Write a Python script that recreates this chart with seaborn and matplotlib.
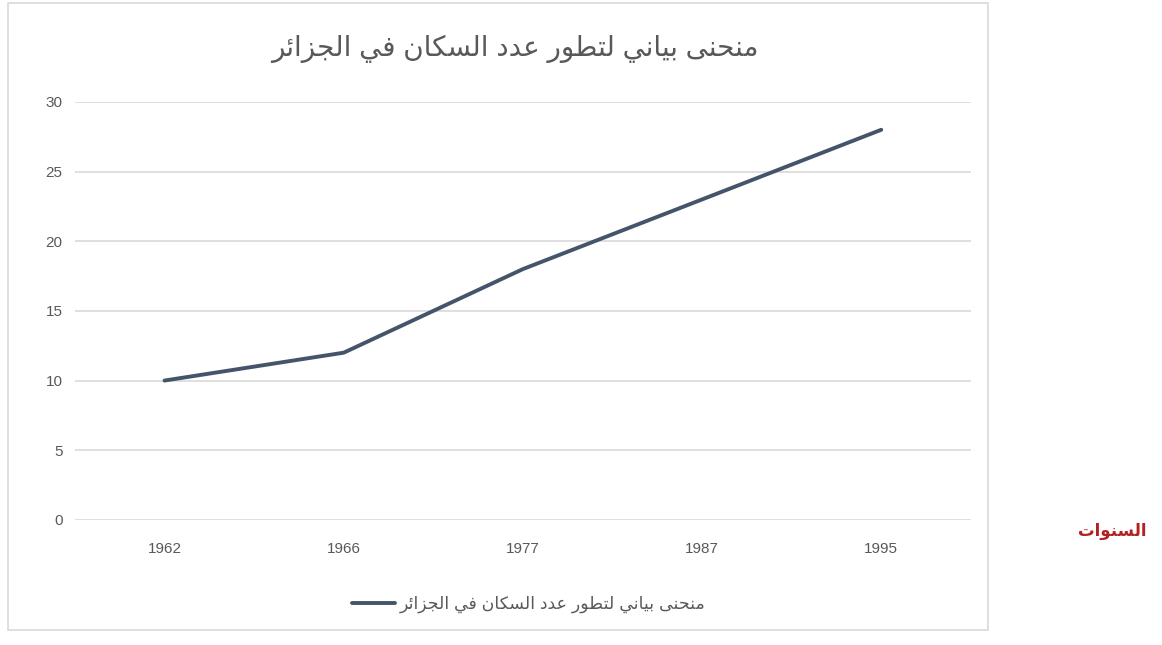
import pandas as pd
import matplotlib
matplotlib.use("Agg")
import matplotlib.pyplot as plt
import seaborn as sns
from matplotlib.patches import Rectangle

# data
years = ["1962", "1966", "1977", "1987", "1995"]
population = [10, 12, 18, 23, 28]
y_ticks = [0, 5, 10, 15, 20, 25, 30]

title = "منحنى بياني لتطور عدد السكان في الجزائر"
series_name = "منحنى بياني لتطور عدد السكان في الجزائر"
side_label = "السنوات"

# matplotlib has no Arabic shaping, so map letters to presentation forms
# (isolated, final, initial, medial); None = letter does not join forward
FORMS = {
    "ا": ("\uFE8D", "\uFE8E", None, None),
    "ب": ("\uFE8F", "\uFE90", "\uFE91", "\uFE92"),
    "ت": ("\uFE95", "\uFE96", "\uFE97", "\uFE98"),
    "ج": ("\uFE9D", "\uFE9E", "\uFE9F", "\uFEA0"),
    "ح": ("\uFEA1", "\uFEA2", "\uFEA3", "\uFEA4"),
    "د": ("\uFEA9", "\uFEAA", None, None),
    "ر": ("\uFEAD", "\uFEAE", None, None),
    "ز": ("\uFEAF", "\uFEB0", None, None),
    "س": ("\uFEB1", "\uFEB2", "\uFEB3", "\uFEB4"),
    "ط": ("\uFEC1", "\uFEC2", "\uFEC3", "\uFEC4"),
    "ع": ("\uFEC9", "\uFECA", "\uFECB", "\uFECC"),
    "ف": ("\uFED1", "\uFED2", "\uFED3", "\uFED4"),
    "ك": ("\uFED9", "\uFEDA", "\uFEDB", "\uFEDC"),
    "ل": ("\uFEDD", "\uFEDE", "\uFEDF", "\uFEE0"),
    "م": ("\uFEE1", "\uFEE2", "\uFEE3", "\uFEE4"),
    "ن": ("\uFEE5", "\uFEE6", "\uFEE7", "\uFEE8"),
    "و": ("\uFEED", "\uFEEE", None, None),
    "ى": ("\uFEEF", "\uFEF0", "\uFBE8", "\uFBE9"),
    "ي": ("\uFEF1", "\uFEF2", "\uFEF3", "\uFEF4"),
    "ئ": ("\uFE89", "\uFE8A", "\uFE8B", "\uFE8C"),
}


def shape(text):
    out = []
    for i, ch in enumerate(text):
        if ch not in FORMS:
            out.append(ch)
            continue
        prev = text[i - 1] if i > 0 else ""
        nxt = text[i + 1] if i + 1 < len(text) else ""
        iso, fin, ini, med = FORMS[ch]
        join_prev = prev in FORMS and FORMS[prev][2] is not None
        join_next = ini is not None and nxt in FORMS
        if join_prev and join_next:
            out.append(med)
        elif join_prev:
            out.append(fin)
        elif join_next:
            out.append(ini)
        else:
            out.append(iso)
    return "".join(reversed(out))


sns.set_theme(style="white")
plt.rcParams["font.family"] = ["Liberation Sans", "DejaVu Sans"]

df = pd.DataFrame({"year": years, "pop": population})

fig = plt.figure(figsize=(11.62, 6.45), dpi=100)
ax = fig.add_axes([0.0645, 0.194, 0.771, 0.648])

line_color = "#44546A"
sns.lineplot(data=df, x="year", y="pop", sort=False, ax=ax,
             color=line_color, linewidth=2.8, label=shape(series_name))

ax.set_xlim(-0.5, len(years) - 0.5)
ax.set_ylim(0, 30)
ax.set_yticks(y_ticks)
ax.yaxis.grid(True, color="#d9d9d9", linewidth=1.2)
ax.set_axisbelow(True)
for s in ax.spines.values():
    s.set_visible(False)
ax.tick_params(axis="both", length=0, labelsize=11, labelcolor="#595959")
ax.tick_params(axis="x", pad=16)
ax.tick_params(axis="y", pad=9)
ax.set_xlabel("")
ax.set_ylabel("")

ax.legend_.remove()
fig.legend(*ax.get_legend_handles_labels(), loc="center",
           bbox_to_anchor=(0.455, 0.063), frameon=False, fontsize=12.5,
           labelcolor="#595959", handlelength=2.5, handletextpad=0.3)

fig.text(0.443, 0.924, shape(title), ha="center", va="center",
         fontsize=20, color="#595959")

fig.text(0.957, 0.176, shape(side_label), ha="center", va="center",
         fontsize=12, color="#b22222", fontweight="bold")

# outer chart frame
fig.patches.append(Rectangle((0.007, 0.023), 0.843, 0.972,
                             transform=fig.transFigure, fill=False,
                             edgecolor="#d9d9d9", linewidth=1.2))

fig.savefig("out.png", dpi=100, facecolor="white")
